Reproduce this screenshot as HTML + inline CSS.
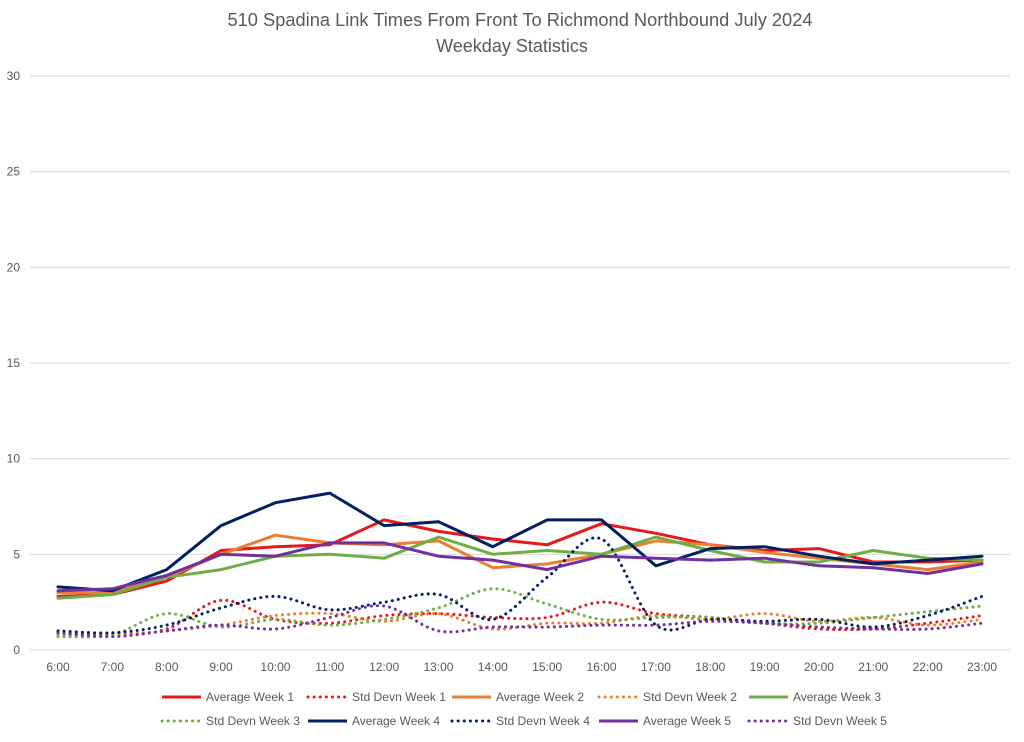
<!DOCTYPE html>
<html><head><meta charset="utf-8"><style>
body{margin:0;background:#fff;font-family:"Liberation Sans",sans-serif;}
</style></head><body>
<svg id="c" width="1024" height="737" xmlns="http://www.w3.org/2000/svg">
<text x="520" y="26" text-anchor="middle" font-size="18" fill="#595959" textLength="585" lengthAdjust="spacingAndGlyphs">510 Spadina Link Times From Front To Richmond Northbound July 2024</text>
<text x="512" y="52" text-anchor="middle" font-size="18" fill="#595959">Weekday Statistics</text>
<g id="grid"></g><g id="series"></g><g id="legend"></g>
</svg>
<script>
const categories=["6:00","7:00","8:00","9:00","10:00","11:00","12:00","13:00","14:00","15:00","16:00","17:00","18:00","19:00","20:00","21:00","22:00","23:00"];
const yTicks=[0,5,10,15,20,25,30];
const avgW1=[2.8,2.9,3.6,5.2,5.4,5.5,6.8,6.2,5.8,5.5,6.6,6.1,5.5,5.2,5.3,4.6,4.6,4.7];
const avgW2=[3.0,3.0,3.8,5.0,6.0,5.6,5.5,5.7,4.3,4.5,5.0,5.7,5.5,5.1,4.8,4.5,4.2,4.6];
const avgW3=[2.7,2.9,3.8,4.2,4.9,5.0,4.8,5.9,5.0,5.2,5.0,5.9,5.2,4.6,4.6,5.2,4.8,4.7];
const avgW4=[3.3,3.1,4.2,6.5,7.7,8.2,6.5,6.7,5.4,6.8,6.8,4.4,5.3,5.4,4.9,4.5,4.7,4.9];
const avgW5=[3.1,3.2,3.9,5.0,4.9,5.6,5.6,4.9,4.7,4.2,4.9,4.8,4.7,4.8,4.4,4.3,4.0,4.5];
const sdW1=[0.9,0.8,1.1,2.6,1.6,1.4,1.8,1.9,1.7,1.7,2.5,1.9,1.7,1.4,1.1,1.1,1.4,1.8];
const sdW2=[0.8,0.8,1.0,1.3,1.8,1.9,1.5,1.9,1.1,1.4,1.4,1.8,1.6,1.9,1.5,1.7,1.3,1.6];
const sdW3=[0.7,0.8,1.9,1.2,1.6,1.3,1.6,2.2,3.2,2.4,1.6,1.7,1.7,1.4,1.4,1.7,2.0,2.3];
const sdW4=[1.0,0.9,1.3,2.2,2.8,2.1,2.5,2.9,1.6,3.8,5.8,1.3,1.6,1.5,1.6,1.2,1.8,2.8];
const sdW5=[0.9,0.7,1.0,1.3,1.1,1.7,2.3,1.0,1.2,1.2,1.3,1.3,1.5,1.4,1.2,1.1,1.1,1.4];
const NS="http://www.w3.org/2000/svg";
const x0=58,x1=982,y0=650,y1=76,L=30,R=1010;
const xs=i=>x0+i*(x1-x0)/(categories.length-1);
const ys=v=>y0-(v/30)*(y0-y1);
function mk(t,a,p){const e=document.createElementNS(NS,t);for(const k in a)e.setAttribute(k,a[k]);p.appendChild(e);return e;}
const grid=document.getElementById('grid');
yTicks.forEach(v=>{
  const l=mk('line',{x1:L,x2:R,y1:ys(v),y2:ys(v),stroke:'#d9d9d9','stroke-width':1},grid);
  
  
  const t=mk('text',{x:20,y:ys(v)+4,'text-anchor':'end','font-size':12,fill:'#595959'},grid);
  t.textContent=v;
  
  
});
categories.forEach((c,i)=>{
  const t=mk('text',{x:xs(i),y:671,'text-anchor':'middle','font-size':12,fill:'#595959'},grid);
  t.textContent=c;
  
  
});
function straight(d){return d.map((v,i)=>(i?'L':'M')+xs(i).toFixed(1)+' '+ys(v).toFixed(1)).join(' ');}
function smooth(d){const p=d.map((v,i)=>[xs(i),ys(v)]);let s='M'+p[0][0]+' '+p[0][1];
  for(let i=0;i<p.length-1;i++){const a=p[Math.max(0,i-1)],b=p[i],c=p[i+1],e=p[Math.min(p.length-1,i+2)];
    const c1=[b[0]+(c[0]-a[0])/6,b[1]+(c[1]-a[1])/6],c2=[c[0]-(e[0]-b[0])/6,c[1]-(e[1]-b[1])/6];
    s+=` C${c1[0].toFixed(1)} ${c1[1].toFixed(1)} ${c2[0].toFixed(1)} ${c2[1].toFixed(1)} ${c[0].toFixed(1)} ${c[1].toFixed(1)}`;}
  return s;}
const series=[
 {n:'Average Week 1',d:avgW1,c:'#e41a1c',dot:false},
 {n:'Std Devn Week 1',d:sdW1,c:'#e41a1c',dot:true},
 {n:'Average Week 2',d:avgW2,c:'#ed7d31',dot:false},
 {n:'Std Devn Week 2',d:sdW2,c:'#ed7d31',dot:true},
 {n:'Average Week 3',d:avgW3,c:'#70ad47',dot:false},
 {n:'Std Devn Week 3',d:sdW3,c:'#70ad47',dot:true},
 {n:'Average Week 4',d:avgW4,c:'#002060',dot:false},
 {n:'Std Devn Week 4',d:sdW4,c:'#002060',dot:true},
 {n:'Average Week 5',d:avgW5,c:'#7030a0',dot:false},
 {n:'Std Devn Week 5',d:sdW5,c:'#7030a0',dot:true}];
const sg=document.getElementById('series'),lg=document.getElementById('legend');
const legX=[161,307,451,598,748],legY=[697,721];
series.forEach((s,k)=>{
  const a={d:s.dot?smooth(s.d):straight(s.d),fill:'none',stroke:s.c,'stroke-width':3,'stroke-linejoin':'round','stroke-linecap':'round'};
  if(s.dot){a['stroke-dasharray']='0.1 6';}
  const p=mk('path',a,sg);
  
  
  const col=k%5, r=Math.floor(k/5);
  const sx=legX[col], sy=legY[r];
  const la={x1:sx+1,x2:sx+40,y1:sy,y2:sy,stroke:s.c,'stroke-width':3,'stroke-linecap':s.dot?'round':'butt'};
  if(s.dot)la['stroke-dasharray']='0.1 6';
  const ll=mk('line',la,lg);
  
  
  const t=mk('text',{x:sx+45,y:sy+4,'font-size':12,fill:'#595959',textLength:s.dot?94:88,lengthAdjust:'spacingAndGlyphs'},lg);
  t.textContent=s.n;
  
  
});
</script>
</body></html>
